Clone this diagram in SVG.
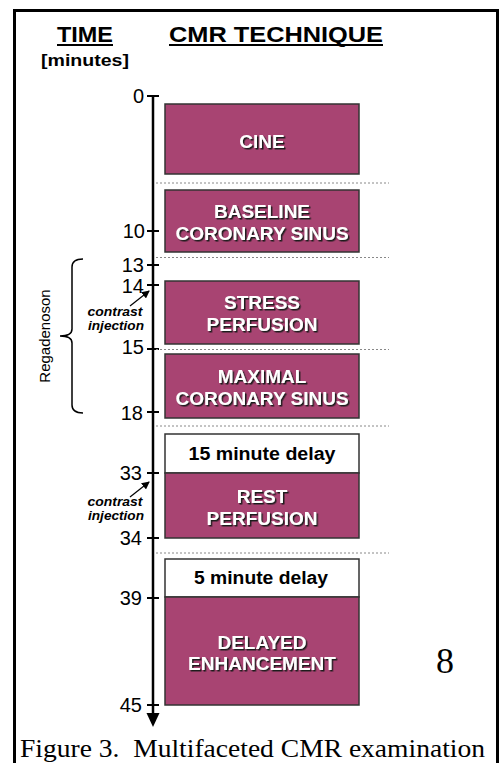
<svg xmlns="http://www.w3.org/2000/svg" width="503" height="763" viewBox="0 0 503 763">
<defs>
<style>
.box{fill:#A84472;stroke:#333;stroke-width:1.5}
.wbox{fill:#fff;stroke:#333;stroke-width:1.5}
.lbl{font-family:"Liberation Sans",Arial,sans-serif;font-weight:bold;font-size:19px;fill:#fff;text-anchor:middle;filter:url(#sh)}
.dl{font-family:"Liberation Sans",Arial,sans-serif;font-weight:bold;font-size:18px;fill:#000;text-anchor:middle}
.tk{font-family:"Liberation Sans",Arial,sans-serif;font-size:20px;fill:#000;text-anchor:end}
.ci{font-family:"Liberation Sans",Arial,sans-serif;font-size:12px;font-weight:bold;font-style:italic;fill:#000;text-anchor:middle}
.dot{stroke:#888;stroke-width:1;stroke-dasharray:2,2;fill:none}
.tick{stroke:#000;stroke-width:2}
</style>
<filter id="sh" x="-10%" y="-30%" width="130%" height="170%">
<feDropShadow dx="1.5" dy="1.5" stdDeviation="0.4" flood-color="#1a1a1a" flood-opacity="1"/>
</filter>
<marker id="ah" markerWidth="8" markerHeight="8" refX="7" refY="4" orient="auto" markerUnits="userSpaceOnUse">
<path d="M0,0 L8,4 L0,8 Z" fill="#000"/>
</marker>
</defs>
<rect x="0" y="0" width="503" height="763" fill="#fff"/>
<rect x="14.5" y="10.5" width="483" height="780" fill="none" stroke="#000" stroke-width="3"/>

<g id="titles">
<text x="57" y="42" font-family="Liberation Sans,Arial,sans-serif" font-weight="bold" font-size="22" textLength="56" lengthAdjust="spacingAndGlyphs">TIME</text>
<line x1="57" y1="45" x2="113" y2="45" stroke="#000" stroke-width="2"/>
<text x="169" y="42" font-family="Liberation Sans,Arial,sans-serif" font-weight="bold" font-size="22" textLength="214" lengthAdjust="spacingAndGlyphs">CMR TECHNIQUE</text>
<line x1="169" y1="45" x2="383" y2="45" stroke="#000" stroke-width="2"/>
<text x="41" y="66" font-family="Liberation Sans,Arial,sans-serif" font-weight="bold" font-size="17" textLength="88" lengthAdjust="spacingAndGlyphs">[minutes]</text>
</g>

<g id="connectors">
<line x1="153" y1="96" x2="153" y2="715" stroke="#000" stroke-width="2.5"/>
<path d="M146.5,713 L159.5,713 L153,727 Z" fill="#000"/>
<line class="tick" x1="147" y1="96" x2="159" y2="96"/>
<line class="tick" x1="147" y1="231" x2="159" y2="231"/>
<line class="tick" x1="147" y1="265" x2="159" y2="265"/>
<line class="tick" x1="147" y1="285" x2="159" y2="285"/>
<line class="tick" x1="147" y1="349" x2="159" y2="349"/>
<line class="tick" x1="147" y1="412" x2="159" y2="412"/>
<line class="tick" x1="147" y1="473" x2="159" y2="473"/>
<line class="tick" x1="147" y1="538" x2="159" y2="538"/>
<line class="tick" x1="147" y1="598" x2="159" y2="598"/>
<line class="tick" x1="147" y1="705" x2="159" y2="705"/>
<line class="dot" x1="156" y1="183" x2="389" y2="183"/>
<line class="dot" x1="156" y1="257.5" x2="389" y2="257.5"/>
<line class="dot" x1="156" y1="349.5" x2="389" y2="349.5"/>
<line class="dot" x1="156" y1="426" x2="389" y2="426"/>
<line class="dot" x1="156" y1="553" x2="389" y2="553"/>
<line x1="130" y1="306" x2="149" y2="291" stroke="#000" stroke-width="1.2" marker-end="url(#ah)"/>
<line x1="130" y1="497" x2="149" y2="482" stroke="#000" stroke-width="1.2" marker-end="url(#ah)"/>
<path d="M83,259 Q72,259 72,267 L72,329 Q72,336 60,336 Q72,336 72,343 L72,405 Q72,413 83,413" fill="none" stroke="#000" stroke-width="1.5"/>
</g>

<g id="tick-labels">
<text class="tk" x="144" y="103">0</text>
<text class="tk" x="145" y="238">10</text>
<text class="tk" x="144" y="272">13</text>
<text class="tk" x="144" y="293">14</text>
<text class="tk" x="144" y="354">15</text>
<text class="tk" x="143" y="420">18</text>
<text class="tk" x="142" y="480">33</text>
<text class="tk" x="142" y="545">34</text>
<text class="tk" x="142" y="605">39</text>
<text class="tk" x="142" y="712">45</text>
</g>

<g id="regadenoson">
<text transform="translate(50,336) rotate(-90)" x="0" y="0" text-anchor="middle" font-family="Liberation Sans,Arial,sans-serif" font-size="15">Regadenoson</text>
</g>

<g id="injection1">
<text class="ci" x="115" y="315.5" textLength="55" lengthAdjust="spacingAndGlyphs">contrast</text>
<text class="ci" x="116" y="329.5" textLength="56" lengthAdjust="spacingAndGlyphs">injection</text>
</g>
<g id="injection2">
<text class="ci" x="115" y="505.5" textLength="55" lengthAdjust="spacingAndGlyphs">contrast</text>
<text class="ci" x="116" y="519.5" textLength="56" lengthAdjust="spacingAndGlyphs">injection</text>
</g>

<g id="cine">
<rect class="box" x="165" y="104" width="194" height="70"/>
<text class="lbl" x="262" y="148">CINE</text>
</g>
<g id="baseline">
<rect class="box" x="165" y="190" width="194" height="62"/>
<text class="lbl" x="262" y="218">BASELINE</text>
<text class="lbl" x="262" y="240">CORONARY SINUS</text>
</g>
<g id="stress">
<rect class="box" x="165" y="281" width="194" height="63"/>
<text class="lbl" x="262" y="309">STRESS</text>
<text class="lbl" x="262" y="331">PERFUSION</text>
</g>
<g id="maximal">
<rect class="box" x="165" y="354" width="194" height="64"/>
<text class="lbl" x="262" y="383">MAXIMAL</text>
<text class="lbl" x="262" y="405">CORONARY SINUS</text>
</g>
<g id="delay15">
<rect class="wbox" x="165" y="434" width="194" height="39"/>
<text class="dl" x="262" y="460" textLength="147" lengthAdjust="spacingAndGlyphs">15 minute delay</text>
</g>
<g id="rest">
<rect class="box" x="165" y="473" width="194" height="65"/>
<text class="lbl" x="262" y="503">REST</text>
<text class="lbl" x="262" y="525">PERFUSION</text>
</g>
<g id="delay5">
<rect class="wbox" x="165" y="559" width="194" height="38"/>
<text class="dl" x="261" y="584" textLength="134" lengthAdjust="spacingAndGlyphs">5 minute delay</text>
</g>
<g id="delayed">
<rect class="box" x="165" y="597" width="194" height="108"/>
<text class="lbl" x="262" y="649">DELAYED</text>
<text class="lbl" x="262" y="670">ENHANCEMENT</text>
</g>

<text x="445" y="673" text-anchor="middle" font-family="Liberation Serif,Times New Roman,serif" font-size="36">8</text>
<text x="20" y="757" font-family="Liberation Serif,Times New Roman,serif" font-size="26" textLength="465" lengthAdjust="spacingAndGlyphs">Figure 3.&#160; Multifaceted CMR examination</text>
</svg>
